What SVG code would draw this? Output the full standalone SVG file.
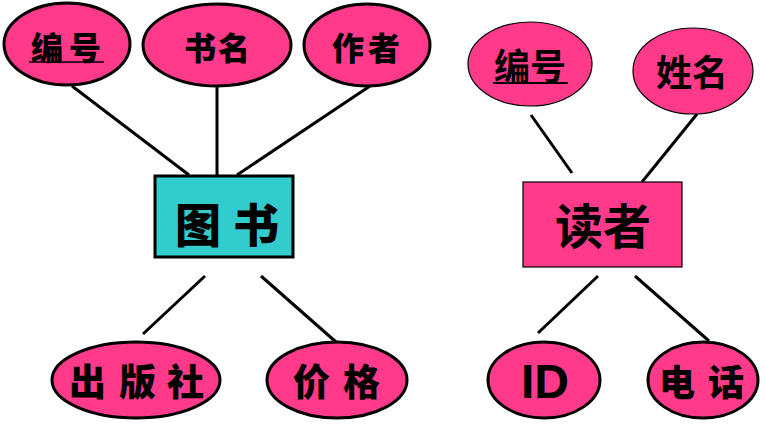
<svg xmlns="http://www.w3.org/2000/svg" width="766" height="425" viewBox="0 0 766 425">
<style>
.attr{fill:#FF3A8A;stroke:#000;stroke-width:3}
.attr2{fill:#FF3A8A;stroke:#000;stroke-width:1.2}
.brush{font-family:"Noto Sans CJK SC","Noto Sans CJK JP",sans-serif;font-weight:900;fill:#000}
.hei{font-family:"Noto Sans CJK SC","Noto Sans CJK JP",sans-serif;font-weight:700;fill:#000;text-anchor:middle}
.ln{stroke:#000;stroke-width:3;fill:none}
</style>
<rect width="766" height="425" fill="#fff"/>
<g id="connectors">
<line class="ln" x1="72" y1="86" x2="189" y2="175"/>
<line class="ln" x1="217" y1="86" x2="217" y2="175"/>
<line class="ln" x1="370" y1="86" x2="237" y2="175"/>
<line class="ln" x1="205" y1="276" x2="143" y2="334"/>
<line class="ln" x1="261" y1="276" x2="336" y2="342"/>
<line class="ln" x1="531" y1="115" x2="572" y2="173"/>
<line class="ln" x1="697" y1="114" x2="642" y2="182"/>
<line class="ln" x1="598" y1="276" x2="538" y2="333"/>
<line class="ln" x1="635" y1="276" x2="709" y2="341"/>
</g>
<g id="book">
<rect x="155" y="176" width="138" height="81" fill="#33CCCC" stroke="#000" stroke-width="3"/>
<text class="brush" x="175 233" y="242" font-size="46">图书</text>
</g>
<g id="book-id">
<ellipse class="attr" cx="67" cy="44" rx="63" ry="41"/>
<text class="brush" x="31 69" y="60" font-size="32">编号</text>
<line x1="29" y1="62" x2="104" y2="62" stroke="#000" stroke-width="1.5"/>
</g>
<g id="book-title">
<ellipse class="attr" cx="217" cy="45" rx="74" ry="41"/>
<text class="brush" x="184 218" y="60" font-size="32">书名</text>
</g>
<g id="book-author">
<ellipse class="attr" cx="367" cy="45" rx="63" ry="41"/>
<text class="brush" x="332 368" y="60" font-size="32">作者</text>
</g>
<g id="book-publisher">
<ellipse class="attr" cx="136" cy="380" rx="84" ry="38"/>
<text class="brush" x="69 119 167" y="396" font-size="37">出版社</text>
</g>
<g id="book-price">
<ellipse class="attr" cx="337" cy="380" rx="70" ry="38"/>
<text class="brush" x="293 343" y="396" font-size="37">价格</text>
</g>
<g id="reader">
<rect x="523" y="182" width="159" height="85" fill="#FF3A8A" stroke="#000" stroke-width="1.2"/>
<text class="hei" x="603" y="244" font-size="48">读者</text>
</g>
<g id="reader-id">
<ellipse class="attr2" cx="530" cy="64" rx="62" ry="42"/>
<text class="hei" x="530" y="80" font-size="36">编号</text>
<line x1="493" y1="83" x2="568" y2="83" stroke="#000" stroke-width="2"/>
</g>
<g id="reader-name">
<ellipse class="attr2" cx="693" cy="71" rx="60" ry="43"/>
<text class="hei" x="692" y="86" font-size="36">姓名</text>
</g>
<g id="reader-ID">
<ellipse class="attr" cx="544" cy="380" rx="56" ry="38" stroke-width="2.5"/>
<text x="545" y="398" font-size="48" font-family="Liberation Sans, Arial, sans-serif" font-weight="bold" text-anchor="middle">ID</text>
</g>
<g id="reader-phone">
<ellipse class="attr" cx="703" cy="380" rx="55" ry="38" stroke-width="2.5"/>
<text class="brush" x="659 708" y="396" font-size="36">电话</text>
</g>
</svg>
